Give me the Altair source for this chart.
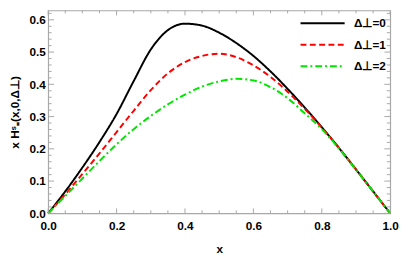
import altair as alt
import pandas as pd

xs = [0, 0.05, 0.1, 0.15, 0.2, 0.25, 0.3, 0.35, 0.4, 0.45, 0.5, 0.55, 0.6, 0.65, 0.7, 0.75, 0.8, 0.85, 0.9, 0.95, 1.0]
d0 = [0, 0.068, 0.142, 0.221, 0.308, 0.41, 0.508, 0.568, 0.588, 0.582, 0.560, 0.528, 0.488, 0.44, 0.386, 0.328, 0.267, 0.203, 0.136, 0.068, 0]
d1 = [0, 0.059, 0.122, 0.186, 0.252, 0.318, 0.382, 0.434, 0.469, 0.488, 0.495, 0.484, 0.459, 0.423, 0.377, 0.324, 0.266, 0.203, 0.136, 0.068, 0]
d2 = [0, 0.054, 0.108, 0.162, 0.214, 0.261, 0.302, 0.338, 0.368, 0.393, 0.409, 0.417, 0.412, 0.391, 0.357, 0.31, 0.261, 0.201, 0.135, 0.068, 0]
series = ["Δ⊥=0", "Δ⊥=1", "Δ⊥=2"]
colors = ["#000000", "#ff0000", "#00e600"]
dashes = [[1, 0], [6, 3.5], [7, 3, 2, 3]]

x_major = [0.0, 0.2, 0.4, 0.6, 0.8, 1.0]
x_minor = [0.05, 0.1, 0.15, 0.25, 0.3, 0.35, 0.45, 0.5, 0.55, 0.65, 0.7, 0.75, 0.85, 0.9, 0.95]
y_major = [0.0, 0.1, 0.2, 0.3, 0.4, 0.5, 0.6]
y_minor = [0.02, 0.04, 0.06, 0.08, 0.12, 0.14, 0.16, 0.18, 0.22, 0.24, 0.26, 0.28,
           0.32, 0.34, 0.36, 0.38, 0.42, 0.44, 0.46, 0.48, 0.52, 0.54, 0.56, 0.58, 0.62]

W, H = 349, 207
YMAX = 0.629
FRAME = "#a8a8a8"
FONT = "Liberation Sans"

rows = []
for name, ys in zip(series, [d0, d1, d2]):
    for xv, yv in zip(xs, ys):
        rows.append({"x": xv, "y": yv, "s": name})
df = pd.DataFrame(rows)

xsc = alt.Scale(domain=[0, 1], nice=False, zero=False)
ysc = alt.Scale(domain=[0, YMAX], nice=False, zero=False)

X_AXIS = alt.Axis(values=x_major, format=".1f", ticks=False, domain=False, grid=False,
                  labelFlush=False, labelOverlap=False, labelPadding=7, labelFont=FONT,
                  labelFontSize=12, labelFontWeight="bold", labelColor="black",
                  title="x", titleFont=FONT, titleFontSize=12, titleFontWeight="bold",
                  titleColor="black", titlePadding=13)
Y_AXIS = alt.Axis(values=y_major, format=".1f", ticks=False, domain=False, grid=False,
                  labelFlush=False, labelOverlap=False, labelPadding=3, labelFont=FONT,
                  labelFontSize=12, labelFontWeight="bold", labelColor="black",
                  title="x Hˢ₌(x,0,Δ⊥)", titleFont=FONT, titleFontSize=12,
                  titleFontWeight="bold", titleColor="black", titlePadding=8)

lines = alt.Chart(df).mark_line(strokeWidth=2, interpolate="monotone").encode(
    x=alt.X("x:Q", scale=xsc, axis=X_AXIS),
    y=alt.Y("y:Q", scale=ysc, axis=Y_AXIS),
    color=alt.Color("s:N", scale=alt.Scale(domain=series, range=colors),
                    legend=alt.Legend(title=None, orient="none", legendX=274, legendY=7,
                                      symbolType="M-5,0H5", symbolSize=81, symbolStrokeWidth=2,
                                      labelFont=FONT, labelFontSize=12, labelFontWeight="bold",
                                      labelColor="black", labelOffset=26, rowPadding=10)),
    strokeDash=alt.StrokeDash("s:N", scale=alt.Scale(domain=series, range=dashes), legend=None),
)

def xticks(vals, length, top):
    d = pd.DataFrame({"v": vals})
    if top:
        return alt.Chart(d).mark_rule(color=FRAME, strokeWidth=1).encode(
            x=alt.X("v:Q", scale=xsc, axis=X_AXIS), y=alt.value(0), y2=alt.value(length))
    return alt.Chart(d).mark_rule(color=FRAME, strokeWidth=1).encode(
        x=alt.X("v:Q", scale=xsc, axis=X_AXIS), y=alt.value(H), y2=alt.value(H - length))

def yticks(vals, length, right):
    d = pd.DataFrame({"v": vals})
    if right:
        return alt.Chart(d).mark_rule(color=FRAME, strokeWidth=1).encode(
            y=alt.Y("v:Q", scale=ysc, axis=Y_AXIS), x=alt.value(W), x2=alt.value(W - length))
    return alt.Chart(d).mark_rule(color=FRAME, strokeWidth=1).encode(
        y=alt.Y("v:Q", scale=ysc, axis=Y_AXIS), x=alt.value(0), x2=alt.value(length))

ticks = [
    xticks(x_major, 5, False), xticks(x_minor, 3, False),
    xticks(x_major, 5, True), xticks(x_minor, 3, True),
    yticks(y_major, 6, False), yticks(y_minor, 3.5, False),
    yticks(y_major, 6, True), yticks(y_minor, 3.5, True),
]

chart = alt.layer(lines, *ticks).properties(
    width=W, height=H,
    autosize=alt.AutoSizeParams(type="none"),
    padding={"left": 41, "top": 0, "right": 11, "bottom": 40},
).configure_view(stroke=FRAME, strokeWidth=1.2).configure_axis(grid=False)

chart.save("out.html", embed_options={"renderer": "svg", "actions": False})
